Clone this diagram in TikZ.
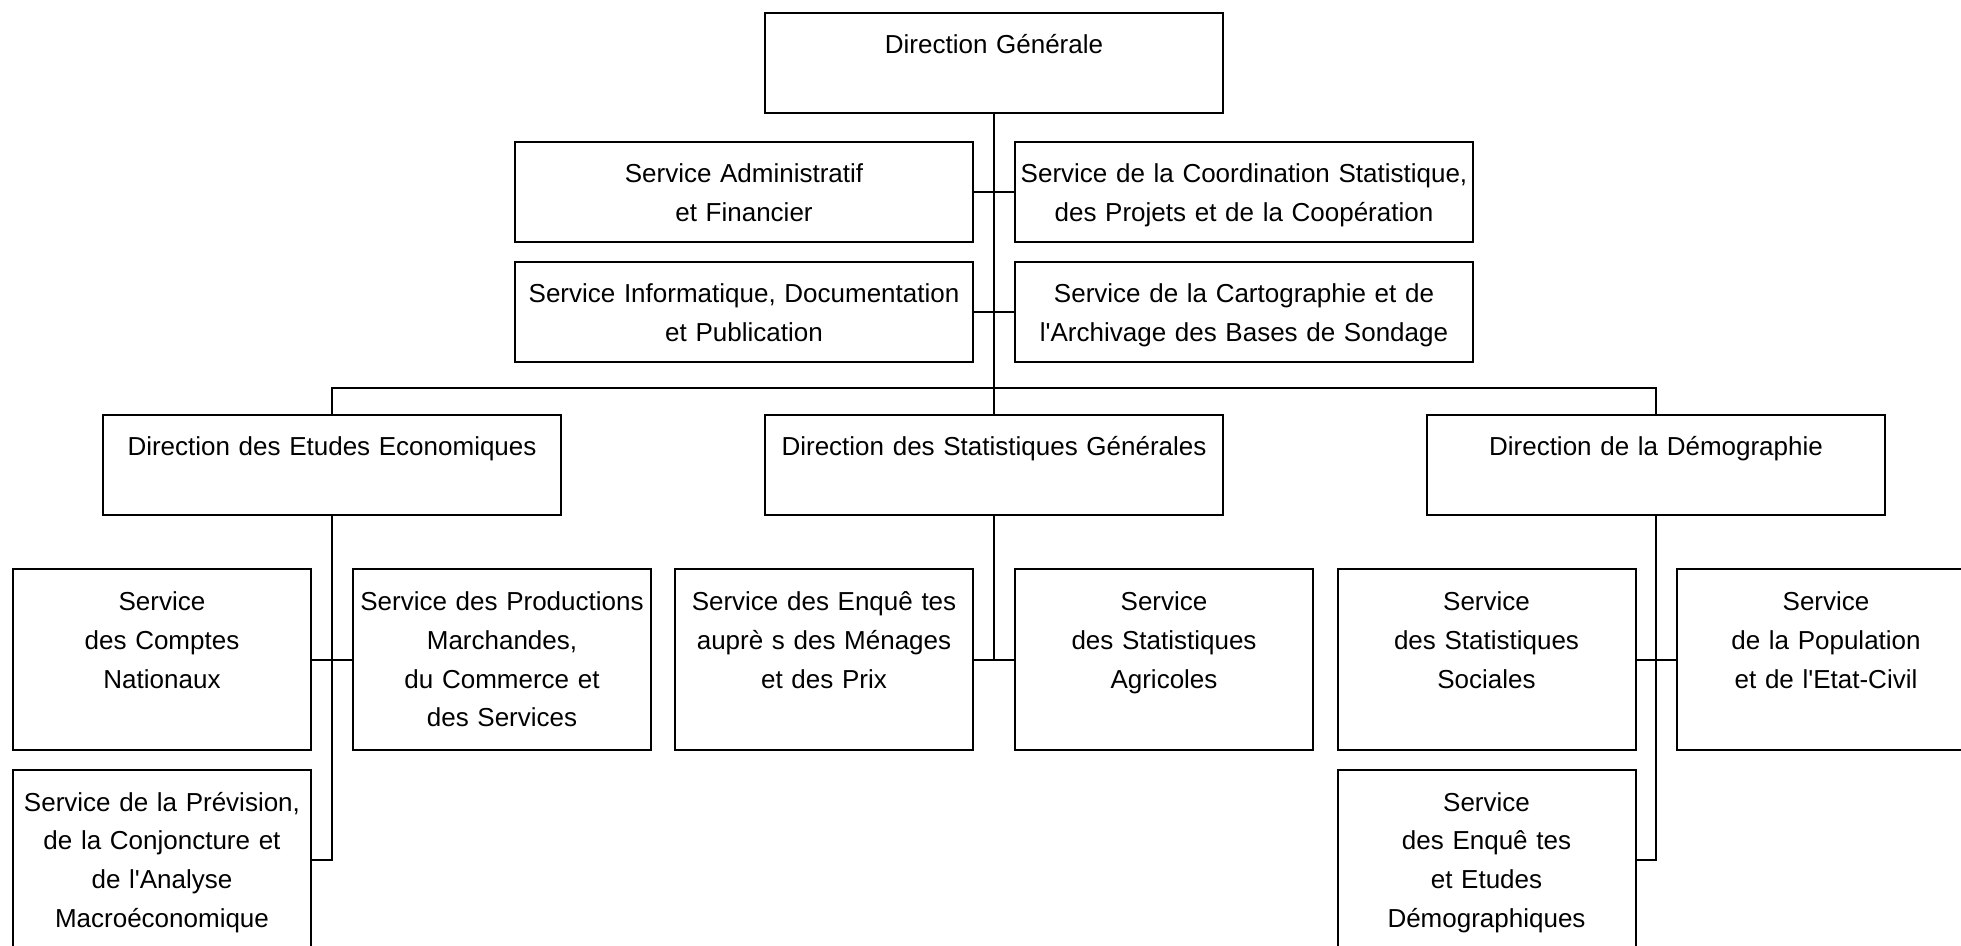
\documentclass[tikz,border=0pt]{standalone}
\usepackage{fontspec}
\setmainfont{Liberation Sans}
\usepackage{tikz}
\tikzstyle{dirbox} = [rectangle, draw=black, line width=1pt, anchor=north, align=center, inner xsep=2pt, inner ysep=0pt, text width=225pt, text height=20.5pt, text depth=29.5pt]
\tikzstyle{servbox} = [rectangle, draw=black, line width=1pt, anchor=north, align=center, inner xsep=2pt, inner ysep=0pt, text width=145pt, text height=20.5pt, text depth=69.5pt]
\tikzstyle{link} = [line width=1pt]

\begin{document}
\begin{tikzpicture}[x=0.5pt, y=-0.5pt, font=\fontsize{13pt}{19.4pt}\selectfont]

\useasboundingbox (0,0) rectangle (1961,946);
\fill [white] (0,0) rectangle (1961,946);
\clip (0,0) rectangle (1961,946);

% Top level
\node (dg) [dirbox] at (994,12) {Direction Générale};
\node (saf) [dirbox] at (744,141) {Service Administratif\\et Financier};
\node (scspc) [dirbox] at (1244,141) {Service de la Coordination Statistique,\\des Projets et de la Coopération};
\node (sidp) [dirbox] at (744,261) {Service Informatique, Documentation\\et Publication};
\node (scabs) [dirbox] at (1244,261) {Service de la Cartographie et de\\l\textquotesingle Archivage des Bases de Sondage};

% Directions
\node (dee) [dirbox] at (332,414) {Direction des Etudes Economiques};
\node (dsg) [dirbox] at (994,414) {Direction des Statistiques Générales};
\node (dd) [dirbox] at (1656,414) {Direction de la Démographie};

% Services
\node (scn) [servbox] at (162,568.5) {Service\\des Comptes\\Nationaux};
\node (spmcs) [servbox] at (502,568.5) {Service des Productions\\Marchandes,\\du Commerce et\\des Services};
\node (semp) [servbox] at (824,568.5) {Service des Enquê tes\\auprè s des Ménages\\et des Prix};
\node (ssa) [servbox] at (1164,568.5) {Service\\des Statistiques\\Agricoles};
\node (sss) [servbox] at (1486.5,568.5) {Service\\des Statistiques\\Sociales};
\node (spec) [servbox] at (1826,568.5) {Service\\de la Population\\et de l\textquotesingle Etat-Civil};
\node (spcam) [servbox] at (162,769) {Service de la Prévision,\\de la Conjoncture et\\de l\textquotesingle Analyse\\Macroéconomique};
\node (seed) [servbox] at (1486.5,769) {Service\\des Enquê tes\\et Etudes\\Démographiques};

% Lines
\draw [link] (dg.south) -- (dsg.north);
\draw [link] (saf.east) -- (scspc.west);
\draw [link] (sidp.east) -- (scabs.west);
\draw [link] (dee.north) -- ++(0,-26) -| (dd.north);
\draw [link] (scn.east) -- (spmcs.west);
\draw [link] (dee.south) |- (spcam.east);
\draw [link] (dsg.south) -- (dsg.south |- semp.east);
\draw [link] (semp.east) -- (ssa.west);
\draw [link] (sss.east) -- (spec.west);
\draw [link] (dd.south) |- (seed.east);

\end{tikzpicture}
\end{document}
